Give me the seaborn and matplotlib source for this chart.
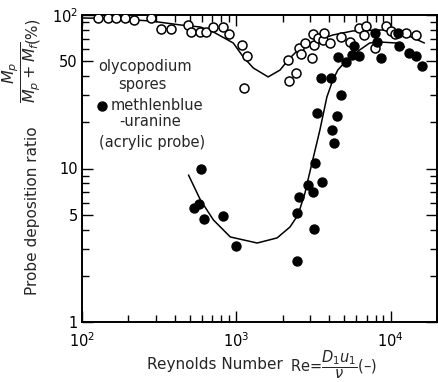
import matplotlib
matplotlib.use("Agg")
import matplotlib.pyplot as plt
import seaborn as sns
from matplotlib.ticker import FixedLocator, LogLocator, NullFormatter

# ---------------- data ----------------
open_re = [127, 147, 166, 189, 217, 279, 323, 375, 490, 512, 586, 640, 711, 824, 901,
           1093, 1178, 1126, 2166, 2198, 2439, 2550, 2627, 2788, 3093, 3140, 3187, 3381,
           3641, 3696, 4042, 4758, 5439, 6217, 6899, 6697, 7884, 9284, 10000, 10612,
           12686, 14717]
open_ratio = [95.6, 95.6, 95.6, 95.6, 92.8, 95.6, 81.0, 81.0, 86.1, 77.5, 77.5, 77.5, 83.5,
              83.5, 75.2, 63.8, 54.1, 33.5, 50.9, 37.2, 41.9, 61.0, 55.7, 65.7, 52.5, 75.2,
              63.8, 70.8, 68.7, 76.3, 65.7, 71.9, 66.7, 82.3, 84.8, 74.1, 61.0, 84.8, 78.7,
              75.2, 76.3, 74.1]

filled_re = [595, 536, 577, 622, 824, 1000, 2475, 2475, 2550, 2914, 3140, 3187, 3587, 3234,
             3331, 4290, 4164, 4484, 4758, 3535, 4102, 4551, 5124, 5602, 5771, 6217, 7884,
             8122, 8620, 11098, 11262, 13267, 14717, 16087]
filled_ratio = [9.92, 5.53, 5.87, 4.69, 4.90, 3.13, 2.50, 5.13, 6.52, 7.81, 7.03, 4.03, 8.17,
                10.86, 22.98, 14.66, 17.81, 21.98, 30.1, 38.9, 38.9, 53.3, 49.4, 54.9, 62.8,
                54.1, 76.3, 66.7, 52.5, 76.3, 62.8, 56.5, 54.1, 46.5]

open_curve_re = [101.5, 154, 279, 435, 586, 711, 956, 1110, 1288, 1609, 1922, 2166, 2588,
                 3140, 4225, 5686, 8880, 11952, 16572]
open_curve_ratio = [95.6, 94.9, 91.4, 86.1, 83.5, 77.5, 65.7, 53.3, 45.2, 39.5, 43.8, 50.9,
                    61.0, 66.7, 74.1, 78.7, 79.9, 76.3, 65.7]

filled_curve_re = [490, 586, 711, 915, 1366, 1839, 2230, 2512, 2788, 2914, 3483, 3865, 4225,
                   4551, 5200, 6310, 7318, 8492, 10934, 12310]
filled_curve_ratio = [9.07, 6.23, 4.62, 3.58, 3.27, 3.53, 4.16, 4.98, 6.92, 8.41, 17.81, 29.2,
                      37.7, 43.8, 50.9, 59.2, 65.7, 66.7, 65.7, 61.9]

x_major_ticks = [100, 1000, 10000]
x_tick_labels = [r"$\mathregular{10^2}$", r"$\mathregular{10^3}$", r"$\mathregular{10^4}$"]
y_major_ticks = [1, 5, 10, 50, 100]
y_tick_labels = ["1", "5", "10", "50", r"$\mathregular{10^2}$"]

# ---------------- figure ----------------
sns.set_style("ticks")
plt.rcParams["font.family"] = ["DejaVu Sans"]

fig = plt.figure(figsize=(4.39, 3.82), dpi=100)
ax = fig.add_axes([82 / 439, 1 - 322 / 382, 355 / 439, 307 / 382])

sns.lineplot(x=open_curve_re, y=open_curve_ratio, sort=False, estimator=None,
             color="black", linewidth=1.1, ax=ax)
sns.lineplot(x=filled_curve_re, y=filled_curve_ratio, sort=False, estimator=None,
             color="black", linewidth=1.1, ax=ax)
sns.scatterplot(x=open_re, y=open_ratio, ax=ax, marker="o", s=42, color="white",
                edgecolor="black", linewidth=1.1, zorder=3)
sns.scatterplot(x=filled_re, y=filled_ratio, ax=ax, marker="o", s=42, color="black",
                edgecolor="black", linewidth=1.0, zorder=3)

ax.set_xscale("log")
ax.set_yscale("log")
ax.set_xlim(100, 20000)
ax.set_ylim(1, 100)

ax.xaxis.set_major_locator(FixedLocator(x_major_ticks))
ax.set_xticklabels(x_tick_labels)
ax.xaxis.set_minor_locator(LogLocator(base=10, subs=[2, 3, 4, 5, 6, 7, 8, 9]))
ax.xaxis.set_minor_formatter(NullFormatter())
ax.yaxis.set_major_locator(FixedLocator(y_major_ticks))
ax.set_yticklabels(y_tick_labels)
ax.yaxis.set_minor_locator(LogLocator(base=10, subs=[2, 3, 4, 6, 7, 8, 9]))
ax.yaxis.set_minor_formatter(NullFormatter())

ax.tick_params(which="both", direction="in", top=True, right=True, width=1.0,
               color="black", labelcolor="black", labelsize=10.5)
ax.tick_params(which="major", length=8)
ax.tick_params(which="minor", length=5)
ax.tick_params(axis="x", which="both", pad=7)
ax.tick_params(axis="y", which="both", pad=3)
for sp in ax.spines.values():
    sp.set_visible(True)
    sp.set_linewidth(1.4)
    sp.set_color("black")
ax.set_xlabel("")
ax.set_ylabel("")

# legend-like annotations inside the axes
tsize = 10.5
fig.text(145 / 439, 1 - 66 / 382, "olycopodium", ha="center", va="center", fontsize=tsize)
fig.text(142 / 439, 1 - 84 / 382, "spores", ha="center", va="center", fontsize=tsize)
ax.scatter([(102 - 82) / 355], [(322 - 106) / 307], transform=ax.transAxes, s=42,
           color="black", zorder=4, clip_on=False)
fig.text(111 / 439, 1 - 106 / 382, "methlenblue", ha="left", va="center", fontsize=tsize)
fig.text(150 / 439, 1 - 121 / 382, "-uranine", ha="center", va="center", fontsize=tsize)
fig.text(152 / 439, 1 - 142 / 382, "(acrylic probe)", ha="center", va="center", fontsize=tsize)

# y-axis label pieces
fig.text(33 / 439, 1 - 211 / 382, "Probe deposition ratio", rotation=90,
         ha="center", va="center", fontsize=11)
fig.text(22 / 439, 1 - 72 / 382, r"$\dfrac{M_p}{M_p+M_f}$", rotation=90,
         ha="center", va="center", fontsize=11.5)
fig.text(32 / 439, 1 - 30 / 382, "(%)", rotation=90, ha="center", va="center", fontsize=11)

# x-axis label pieces
fig.text(215 / 439, 1 - 364 / 382, "Reynolds Number", ha="center", va="center", fontsize=11)
fig.text(290 / 439, 1 - 365 / 382, r"Re=$\dfrac{D_1u_1}{\nu}$(–)", ha="left", va="center",
         fontsize=10.5)

fig.savefig("out.png", dpi=100, facecolor="white")
